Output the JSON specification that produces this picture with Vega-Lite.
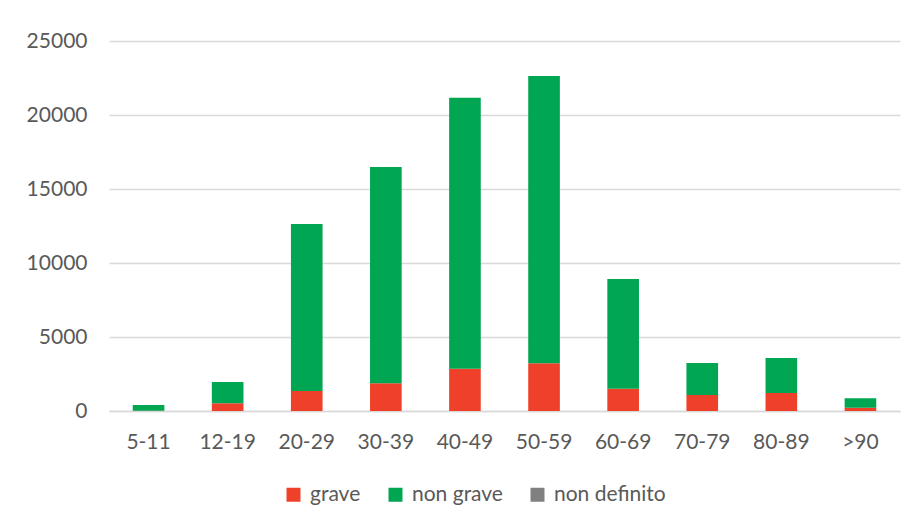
{
  "$schema": "https://vega.github.io/schema/vega-lite/v6.json",
  "width": 791,
  "height": 370,
  "autosize": {"type": "none"},
  "padding": {"left": 109, "top": 41, "right": 13, "bottom": 114},
  "background": "white",
  "data": {
    "values": [
      {"eta": "5-11", "tipo": "grave", "casi": 10},
      {"eta": "5-11", "tipo": "non grave", "casi": 390},
      {"eta": "5-11", "tipo": "non definito", "casi": 0},
      {"eta": "12-19", "tipo": "grave", "casi": 520},
      {"eta": "12-19", "tipo": "non grave", "casi": 1440},
      {"eta": "12-19", "tipo": "non definito", "casi": 0},
      {"eta": "20-29", "tipo": "grave", "casi": 1350},
      {"eta": "20-29", "tipo": "non grave", "casi": 11290},
      {"eta": "20-29", "tipo": "non definito", "casi": 0},
      {"eta": "30-39", "tipo": "grave", "casi": 1870},
      {"eta": "30-39", "tipo": "non grave", "casi": 14620},
      {"eta": "30-39", "tipo": "non definito", "casi": 0},
      {"eta": "40-49", "tipo": "grave", "casi": 2860},
      {"eta": "40-49", "tipo": "non grave", "casi": 18300},
      {"eta": "40-49", "tipo": "non definito", "casi": 0},
      {"eta": "50-59", "tipo": "grave", "casi": 3220},
      {"eta": "50-59", "tipo": "non grave", "casi": 19420},
      {"eta": "50-59", "tipo": "non definito", "casi": 0},
      {"eta": "60-69", "tipo": "grave", "casi": 1510},
      {"eta": "60-69", "tipo": "non grave", "casi": 7410},
      {"eta": "60-69", "tipo": "non definito", "casi": 0},
      {"eta": "70-79", "tipo": "grave", "casi": 1080},
      {"eta": "70-79", "tipo": "non grave", "casi": 2160},
      {"eta": "70-79", "tipo": "non definito", "casi": 0},
      {"eta": "80-89", "tipo": "grave", "casi": 1220},
      {"eta": "80-89", "tipo": "non grave", "casi": 2360},
      {"eta": "80-89", "tipo": "non definito", "casi": 0},
      {"eta": ">90", "tipo": "grave", "casi": 220},
      {"eta": ">90", "tipo": "non grave", "casi": 640},
      {"eta": ">90", "tipo": "non definito", "casi": 0}
    ]
  },
  "mark": {"type": "bar"},
  "encoding": {
    "x": {
      "field": "eta",
      "type": "nominal",
      "sort": null,
      "scale": {"paddingInner": 0.6, "paddingOuter": 0.3},
      "axis": {
        "title": null,
        "labelAngle": 0,
        "ticks": false,
        "domainColor": "#D9D9D9",
        "domainWidth": 1.5,
        "labelPadding": 20,
        "labelFont": "Lato",
        "labelFontSize": 21,
        "labelColor": "#595959",
        "labelBaseline": "top"
      }
    },
    "y": {
      "field": "casi",
      "type": "quantitative",
      "stack": "zero",
      "scale": {"domain": [0, 25000]},
      "axis": {
        "title": null,
        "values": [0, 5000, 10000, 15000, 20000, 25000],
        "format": "d",
        "domain": false,
        "ticks": false,
        "gridColor": "#D9D9D9",
        "gridWidth": 1.5,
        "labelPadding": 22,
        "labelFont": "Lato",
        "labelFontSize": 21,
        "labelColor": "#595959"
      }
    },
    "color": {
      "field": "tipo",
      "type": "nominal",
      "scale": {
        "domain": ["grave", "non grave", "non definito"],
        "range": ["#EF4129", "#00A651", "#808080"]
      },
      "legend": {
        "title": null,
        "orient": "none",
        "legendX": 174,
        "legendY": 443,
        "direction": "horizontal",
        "symbolType": "square",
        "symbolSize": 196,
        "symbolStrokeWidth": 0,
        "labelFont": "Lato",
        "labelFontSize": 21,
        "labelColor": "#595959",
        "columnPadding": 24,
        "labelOffset": 6
      }
    },
    "order": {"field": "tipo", "sort": "ascending"}
  },
  "config": {"view": {"stroke": null}}
}
